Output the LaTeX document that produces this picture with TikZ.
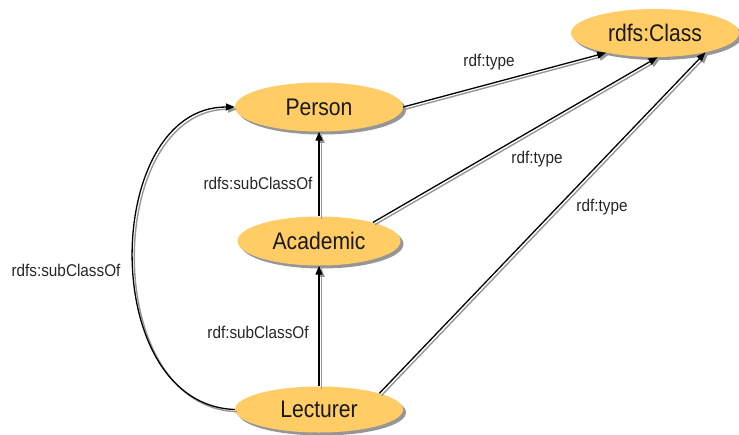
\documentclass[tikz,border=0pt]{standalone}
\usepackage{fontspec}
\setmainfont{Liberation Sans}
\newfontfamily\classfont[FakeStretch=0.88]{Liberation Sans}
\newfontfamily\edgefont[FakeStretch=0.9]{Liberation Sans}
\usetikzlibrary{shapes.geometric,shadows,arrows.meta}
\definecolor{classfill}{RGB}{255,204,102}
\definecolor{shade}{RGB}{150,150,150}
\tikzset{
  classnode/.style={ellipse, fill=classfill, inner sep=0pt,
    font=\classfont\fontsize{24}{28}\selectfont, text=black!90,
    drop shadow={shadow xshift=3pt, shadow yshift=-3pt, fill=shade, opacity=1}},
  link/.style={draw=black, line width=1.3pt, -{Triangle[length=9pt,width=7pt]}},
  linkshade/.style={draw=shade, line width=1.4pt, -{Triangle[length=9pt,width=7pt]}},
  edgelabel/.style={font=\edgefont\fontsize{17}{19}\selectfont, text=black!85, inner sep=0pt}
}
\begin{document}
\begin{tikzpicture}[x=1pt,y=-1pt]
  \useasboundingbox (0,0) rectangle (739,434);

  % classes
  \node[classnode, minimum width=168pt, minimum height=48pt] (cls) at (655,33) {rdfs:Class};
  \node[classnode, minimum width=168pt, minimum height=49pt] (person) at (319,107) {Person};
  \node[classnode, minimum width=163pt, minimum height=49pt] (academic) at (319,241) {Academic};
  \node[classnode, minimum width=168pt, minimum height=46pt] (lecturer) at (319,409.5) {Lecturer};

  % grey shadow copies of the connectors, offset down-right
  \begin{scope}[transform canvas={shift={(2.2pt,-2.2pt)}}]
    \draw[linkshade] (person.east) -- (cls.202);
    \draw[linkshade] (academic.19) -- (cls.276);
    \draw[linkshade] (lecturer.15) -- (cls.339);
    \draw[linkshade] (academic.north) -- (person.south);
    \draw[linkshade] (lecturer.north) -- (academic.south);
    \draw[linkshade] (lecturer.west) .. controls +(-138,-5) and +(-133,0) .. (person.west);
  \end{scope}

  % rdf:type links
  \draw[link] (person.east) -- (cls.202);
  \draw[link] (academic.19) -- (cls.276);
  \draw[link] (lecturer.15) -- (cls.339);

  % subclass links
  \draw[link] (academic.north) -- (person.south);
  \draw[link] (lecturer.north) -- (academic.south);
  \draw[link] (lecturer.west) .. controls +(-138,-5) and +(-133,0) .. (person.west);

  % labels
  \node[edgelabel] (l1) at (489,62) {rdf:type};
  \node[edgelabel] (l2) at (537,159) {rdf:type};
  \node[edgelabel] (l3) at (602,207) {rdf:type};
  \node[edgelabel] (l4) at (258,183) {rdfs:subClassOf};
  \node[edgelabel] (l5) at (258,332) {rdf:subClassOf};
  \node[edgelabel] (l6) at (66,270) {rdfs:subClassOf};
\end{tikzpicture}
\end{document}
